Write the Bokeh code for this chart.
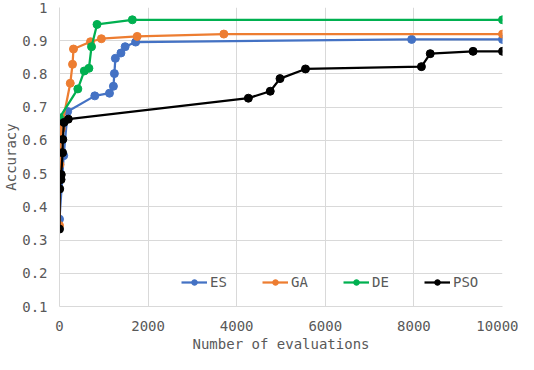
from bokeh.plotting import figure
from bokeh.models import FixedTicker, CustomJSTickFormatter, Legend, LegendItem, Range1d
from bokeh.embed import file_html
from bokeh.resources import INLINE

es_x = [0, 95, 184, 797, 1128, 1217, 1239, 1261, 1387, 1482, 1719, 7949, 10000]
es_y = [0.363, 0.554, 0.687, 0.734, 0.742, 0.763, 0.801, 0.847, 0.863, 0.882, 0.896, 0.904, 0.904]

ga_x = [0, 10, 20, 30, 40, 243, 294, 316, 700, 945, 1754, 3710, 10000]
ga_y = [0.344, 0.527, 0.568, 0.603, 0.635, 0.772, 0.829, 0.875, 0.897, 0.906, 0.913, 0.920, 0.920]

de_x = [0, 414, 560, 664, 723, 847, 1644, 10000]
de_y = [0.668, 0.755, 0.809, 0.817, 0.882, 0.949, 0.963, 0.963]

pso_x = [0, 5, 35, 40, 70, 75, 100, 199, 4263, 4757, 4978, 5553, 8170, 8369, 9336, 10000]
pso_y = [0.333, 0.454, 0.482, 0.497, 0.563, 0.603, 0.654, 0.664, 0.727, 0.748, 0.786, 0.815, 0.822, 0.861, 0.868, 0.868]

x_ticks = [0, 2000, 4000, 6000, 8000, 10000]
y_ticks = [0.1, 0.2, 0.3, 0.4, 0.5, 0.6, 0.7, 0.8, 0.9, 1.0]

series = [
    ("ES", es_x, es_y, "#4472C4"),
    ("GA", ga_x, ga_y, "#ED7D31"),
    ("DE", de_x, de_y, "#00B050"),
    ("PSO", pso_x, pso_y, "#000000"),
]

FONT = "DejaVu Sans Mono"
TXT = "#595959"
GRID = "#d9d9d9"

p = figure(width=518, height=354, output_backend="svg", toolbar_location=None,
           x_range=Range1d(0, 10000), y_range=Range1d(0.1, 1.0),
           min_border_left=50, min_border_right=16, min_border_top=7, min_border_bottom=44)
p.outline_line_color = None
p.background_fill_color = "white"
p.border_fill_color = "white"

for ax in (p.xaxis[0], p.yaxis[0]):
    ax.major_label_text_font = FONT
    ax.major_label_text_font_size = "14px"
    ax.major_label_text_color = TXT
    ax.axis_label_text_font = FONT
    ax.axis_label_text_font_size = "14px"
    ax.axis_label_text_font_style = "normal"
    ax.axis_label_text_color = TXT
    ax.major_tick_line_color = None
    ax.minor_tick_line_color = None
    ax.axis_line_color = GRID
    ax.axis_line_width = 1

p.xaxis.ticker = FixedTicker(ticks=x_ticks)
p.yaxis.ticker = FixedTicker(ticks=y_ticks)
p.yaxis.formatter = CustomJSTickFormatter(code="return tick.toFixed(1).replace(/\\.0$/, '');")
p.xaxis.formatter = CustomJSTickFormatter(code="return tick.toFixed(0);")
p.xaxis.axis_label = "Number of evaluations"
p.yaxis.axis_label = "Accuracy"
p.xaxis.major_label_standoff = 8
p.yaxis.major_label_standoff = 6
p.xaxis.axis_label_standoff = 2
p.yaxis.axis_label_standoff = 0

p.xgrid.grid_line_color = GRID
p.ygrid.grid_line_color = GRID
p.xgrid.grid_line_width = 1
p.ygrid.grid_line_width = 1

items = []
for name, xs, ys, col in series:
    l = p.line(xs, ys, line_color=col, line_width=2.25)
    s = p.scatter(xs, ys, size=8, fill_color=col, line_color=col, marker="circle")
    items.append(LegendItem(label=name, renderers=[l, s]))

legend = Legend(items=items, orientation="horizontal", location=(122, 16),
                background_fill_alpha=0, border_line_color=None,
                label_text_font=FONT, label_text_font_size="14px", label_text_color=TXT,
                glyph_width=26, glyph_height=14, label_width=30, label_standoff=3,
                spacing=22, padding=0, margin=0)
p.add_layout(legend, "center")

open("out.html", "w").write(file_html(p, INLINE))
